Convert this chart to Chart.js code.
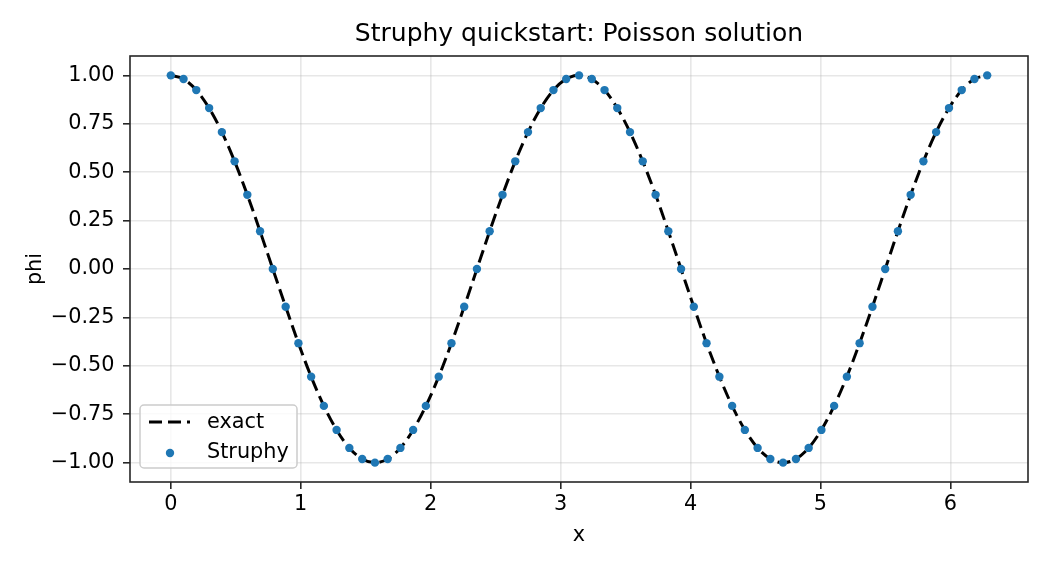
<!DOCTYPE html>
<html>
<head>
<meta charset="utf-8">
<script src="https://cdn.jsdelivr.net/npm/chart.js@4.4.1/dist/chart.umd.min.js"></script>
<style>
  html, body { margin: 0; padding: 0; background: #ffffff; }
  #wrap { width: 1050px; height: 570px; }
</style>
</head>
<body>
<div id="wrap"><canvas id="poissonChart" width="1050" height="570"></canvas></div>
<script>
// grid points x_k
const xValues = [
    0.000, 0.098, 0.196, 0.295, 0.393, 0.491, 0.589, 0.687, 0.785, 0.884,
    0.982, 1.080, 1.178, 1.276, 1.374, 1.473, 1.571, 1.669, 1.767, 1.865,
    1.963, 2.062, 2.160, 2.258, 2.356, 2.454, 2.553, 2.651, 2.749, 2.847,
    2.945, 3.043, 3.142, 3.240, 3.338, 3.436, 3.534, 3.632, 3.731, 3.829,
    3.927, 4.025, 4.123, 4.222, 4.320, 4.418, 4.516, 4.614, 4.712, 4.811,
    4.909, 5.007, 5.105, 5.203, 5.301, 5.400, 5.498, 5.596, 5.694, 5.792,
    5.890, 5.989, 6.087, 6.185, 6.283
];

// exact solution (dashed black curve)
const phiExact = [
    1.000, 0.981, 0.924, 0.831, 0.707, 0.556, 0.383, 0.195, 0.000, -0.195,
    -0.383, -0.556, -0.707, -0.831, -0.924, -0.981, -1.000, -0.981, -0.924, -0.831,
    -0.707, -0.556, -0.383, -0.195, 0.000, 0.195, 0.383, 0.556, 0.707, 0.831,
    0.924, 0.981, 1.000, 0.981, 0.924, 0.831, 0.707, 0.556, 0.383, 0.195,
    0.000, -0.195, -0.383, -0.556, -0.707, -0.831, -0.924, -0.981, -1.000, -0.981,
    -0.924, -0.831, -0.707, -0.556, -0.383, -0.195, 0.000, 0.195, 0.383, 0.556,
    0.707, 0.831, 0.924, 0.981, 1.000
];

// Struphy result (blue dots)
const phiStruphy = [
    1.000, 0.981, 0.924, 0.831, 0.707, 0.556, 0.383, 0.195, 0.000, -0.195,
    -0.383, -0.556, -0.707, -0.831, -0.924, -0.981, -1.000, -0.981, -0.924, -0.831,
    -0.707, -0.556, -0.383, -0.195, 0.000, 0.195, 0.383, 0.556, 0.707, 0.831,
    0.924, 0.981, 1.000, 0.981, 0.924, 0.831, 0.707, 0.556, 0.383, 0.195,
    0.000, -0.195, -0.383, -0.556, -0.707, -0.831, -0.924, -0.981, -1.000, -0.981,
    -0.924, -0.831, -0.707, -0.556, -0.383, -0.195, 0.000, 0.195, 0.383, 0.556,
    0.707, 0.831, 0.924, 0.981, 1.000
];

const xTicks = [0, 1, 2, 3, 4, 5, 6];
const yTicks = [-1, -0.75, -0.5, -0.25, 0, 0.25, 0.5, 0.75, 1];
const yTickLabels = ['\u22121.00', '\u22120.75', '\u22120.50', '\u22120.25', '0.00', '0.25', '0.50', '0.75', '1.00'];

const FONT = 'DejaVu Sans';
const INK = '#262626';
const GRID = 'rgba(176,176,176,0.3)';

const toPoints = (xs, ys) => xs.map((x, i) => ({ x: x, y: ys[i] }));

// full box round the axes, like matplotlib spines
const framePlugin = {
    id: 'frame',
    afterDatasetsDraw(chart) {
        const a = chart.chartArea;
        const ctx = chart.ctx;
        ctx.save();
        ctx.strokeStyle = INK;
        ctx.lineWidth = 1.6;
        ctx.strokeRect(a.left, a.top, a.right - a.left, a.bottom - a.top);
        ctx.restore();
    }
};

// legend box in the lower left corner of the axes
const legendPlugin = {
    id: 'innerLegend',
    afterDraw(chart) {
        const ctx = chart.ctx;
        const a = chart.chartArea;
        const ds = chart.data.datasets;
        const bx = a.left + 10, by = a.bottom - 77, bw = 157, bh = 63;
        ctx.save();
        ctx.beginPath();
        ctx.roundRect(bx, by, bw, bh, 4);
        ctx.fillStyle = 'rgba(255,255,255,0.8)';
        ctx.fill();
        ctx.strokeStyle = '#cccccc';
        ctx.lineWidth = 1.5;
        ctx.stroke();

        // exact
        ctx.beginPath();
        ctx.setLineDash(ds[0].borderDash);
        ctx.strokeStyle = ds[0].borderColor;
        ctx.lineWidth = ds[0].borderWidth;
        ctx.moveTo(bx + 9, by + 17);
        ctx.lineTo(bx + 50, by + 17);
        ctx.stroke();
        ctx.setLineDash([]);

        // Struphy
        ctx.beginPath();
        ctx.fillStyle = ds[1].backgroundColor;
        ctx.arc(bx + 30, by + 48, ds[1].pointRadius, 0, Math.PI * 2);
        ctx.fill();

        ctx.fillStyle = '#000000';
        ctx.font = '20.8px "' + FONT + '"';
        ctx.textBaseline = 'middle';
        ctx.textAlign = 'left';
        ctx.fillText(ds[0].label, bx + 67, by + 18);
        ctx.fillText(ds[1].label, bx + 67, by + 48);
        ctx.restore();
    }
};

const ctx = document.getElementById('poissonChart').getContext('2d');
new Chart(ctx, {
    type: 'scatter',
    data: {
        datasets: [{
            type: 'line',
            label: 'exact',
            data: toPoints(xValues, phiExact),
            borderColor: '#000000',
            borderWidth: 3,
            borderDash: [13, 6],
            pointRadius: 0,
            cubicInterpolationMode: 'monotone',
            fill: false,
            order: 2
        }, {
            type: 'scatter',
            label: 'Struphy',
            data: toPoints(xValues, phiStruphy),
            backgroundColor: '#1f77b4',
            borderWidth: 0,
            pointRadius: 4.2,
            pointHoverRadius: 4.2,
            order: 1
        }]
    },
    options: {
        responsive: false,
        animation: false,
        devicePixelRatio: 1,
        layout: { padding: { left: 0, top: 0, right: 22, bottom: 0 } },
        plugins: {
            legend: { display: false },
            tooltip: { enabled: false },
            title: {
                display: true,
                fullSize: false,
                text: 'Struphy quickstart: Poisson solution',
                color: '#000000',
                font: { family: FONT, size: 25, weight: 'normal' },
                padding: { top: 19, bottom: 7 }
            }
        },
        scales: {
            x: {
                type: 'linear',
                min: -0.314,
                max: 6.597,
                afterFit(scale) { scale.height = 88; },
                afterBuildTicks(scale) { scale.ticks = xTicks.map(v => ({ value: v })); },
                grid: { color: GRID, lineWidth: 1.6, tickColor: INK, tickWidth: 1.6, tickLength: 7 },
                border: { display: false },
                ticks: {
                    color: '#000000',
                    font: { family: FONT, size: 20.8 },
                    padding: 3.5,
                    maxRotation: 0,
                    callback: v => String(v)
                },
                title: {
                    display: true,
                    text: 'x',
                    color: '#000000',
                    font: { family: FONT, size: 20.8 },
                    padding: { top: 0, bottom: 21.5 }
                }
            },
            y: {
                type: 'linear',
                min: -1.1,
                max: 1.1,
                afterFit(scale) { scale.width = 130; },
                afterBuildTicks(scale) { scale.ticks = yTicks.map(v => ({ value: v })); },
                grid: { color: GRID, lineWidth: 1.6, tickColor: INK, tickWidth: 1.6, tickLength: 7 },
                border: { display: false },
                ticks: {
                    color: '#000000',
                    font: { family: FONT, size: 20.8 },
                    padding: 8.5,
                    callback: (v) => yTickLabels[yTicks.indexOf(v)]
                },
                title: {
                    display: true,
                    text: 'phi',
                    color: '#000000',
                    font: { family: FONT, size: 20.8 },
                    padding: { top: 23.5, bottom: 0 }
                }
            }
        }
    },
    plugins: [framePlugin, legendPlugin]
});
</script>
</body>
</html>
